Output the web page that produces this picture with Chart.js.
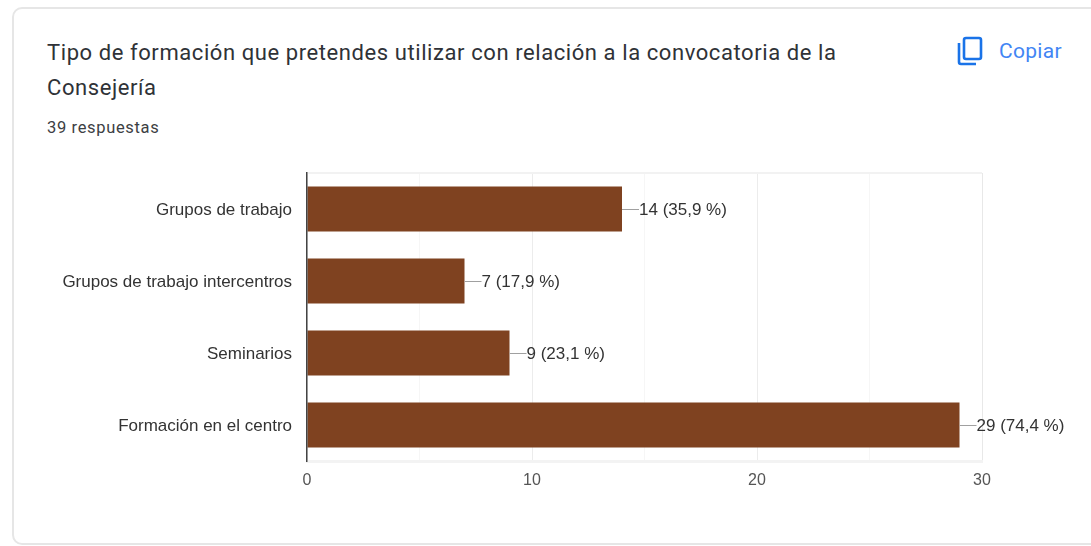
<!DOCTYPE html>
<html lang="es">
<head>
<meta charset="utf-8">
<title>Tipo de formación</title>
<script src="https://cdn.jsdelivr.net/npm/chart.js@4"></script>
<style>
html, body { margin: 0; padding: 0; background: #fff; overflow: hidden; }
#wrap { position: relative; width: 1091px; height: 546px; overflow: hidden; }
#card {
    position: absolute; left: 12px; top: 7px; width: 1200px; height: 538px;
    box-sizing: border-box; background: #fff;
    border: 2px solid #e6e6e6; border-radius: 10px;
}
#title {
    position: absolute; left: 47px; top: 35px; width: 860px;
    font: 400 22px/35px Roboto, sans-serif; letter-spacing: 0.58px; color: #2f3237;
}
#count {
    position: absolute; left: 47px; top: 118px;
    font: 400 16.5px/20px Roboto, sans-serif; letter-spacing: 0.65px; color: #3c4043;
}
#copyIcon { position: absolute; left: 955px; top: 35px; }
#copyText {
    position: absolute; left: 999px; top: 38px;
    font: 400 21px/26px Roboto, sans-serif; letter-spacing: 0.3px; color: #4285f4;
}
#chart { position: absolute; left: 0; top: 0; }
</style>
</head>
<body>
<div id="wrap">
    <div id="card"></div>
    <div id="title">Tipo de formación que pretendes utilizar con relación a la convocatoria de la<br>Consejería</div>
    <div id="count">39 respuestas</div>
    <svg id="copyIcon" width="30" height="32" viewBox="0 0 30 32" fill="none" stroke="#1a73e8" stroke-width="2.6">
        <rect x="9" y="3" width="17" height="21" rx="2"></rect>
        <path d="M4 8 V27 a2 2 0 0 0 2 2 H21"></path>
    </svg>
    <div id="copyText">Copiar</div>
    <canvas id="chart" width="1091" height="546"></canvas>
</div>
<script>
const categories = ["Grupos de trabajo", "Grupos de trabajo intercentros", "Seminarios", "Formación en el centro"];
const counts = [14, 7, 9, 29];
const percents = ["35,9", "17,9", "23,1", "74,4"];

const TEXT_FONT = "Liberation Sans, Arial, sans-serif";

// google forms style labels: short grey leader line, then "n (p %)"
const barLabels =
{
    id: "barLabels",
    afterDatasetsDraw(chart)
    {
        const ctx = chart.ctx;
        const bars = chart.getDatasetMeta(0).data;

        ctx.save();
        ctx.font = "17px " + TEXT_FONT;
        ctx.textBaseline = "middle";
        ctx.textAlign = "left";

        bars.forEach((bar, index) =>
        {
            ctx.strokeStyle = "#a0a0a0";
            ctx.lineWidth = 1;
            ctx.beginPath();
            ctx.moveTo(bar.x, Math.round(bar.y) + 0.5);
            ctx.lineTo(bar.x + 17, Math.round(bar.y) + 0.5);
            ctx.stroke();

            ctx.fillStyle = "#333";
            ctx.fillText(counts[index] + " (" + percents[index] + " %)", bar.x + 17, bar.y + 1);
        });

        ctx.restore();
    }
};

// light frame line along the top of the plot
const topLine =
{
    id: "topLine",
    beforeDatasetsDraw(chart)
    {
        const ctx = chart.ctx;
        const area = chart.chartArea;

        ctx.save();
        ctx.strokeStyle = "#f2f2f2";
        ctx.lineWidth = 2;
        ctx.beginPath();
        ctx.moveTo(area.left, area.top);
        ctx.lineTo(area.right, area.top);
        ctx.stroke();
        ctx.restore();
    }
};

new Chart(document.getElementById("chart").getContext("2d"),
{
    type: "bar",
    data:
    {
        labels: categories,
        datasets:
        [
            {
                data: counts,
                backgroundColor: "#7f4220",
                categoryPercentage: 0.625,
                barPercentage: 1
            }
        ]
    },
    options:
    {
        indexAxis: "y",
        animation: false,
        responsive: false,
        layout:
        {
            padding: { top: 173, right: 109, bottom: 0, left: 0 }
        },
        plugins:
        {
            legend: { display: false },
            tooltip: { enabled: false }
        },
        scales:
        {
            x:
            {
                min: 0,
                max: 30,
                afterFit(scale)
                {
                    scale.height = 85;
                },
                border: { color: "#f3f3f3", width: 3 },
                grid:
                {
                    drawTicks: false,
                    color(context)
                    {
                        const value = context.tick.value;

                        if (value === 30)
                        {
                            return "#e8e8e8";
                        }

                        return value % 10 === 0 ? "#ececec" : "#f6f6f6";
                    }
                },
                ticks:
                {
                    stepSize: 5,
                    maxRotation: 0,
                    padding: 10,
                    color: "#555",
                    font: { family: TEXT_FONT, size: 16 },
                    callback(value)
                    {
                        return value % 10 === 0 ? value : "";
                    }
                }
            },
            y:
            {
                afterFit(scale)
                {
                    scale.width = 307;
                },
                border: { color: "#444", width: 1.5, z: 2 },
                grid: { display: false, drawTicks: false },
                ticks:
                {
                    padding: 15,
                    labelOffset: 1,
                    color: "#333",
                    font: { family: TEXT_FONT, size: 17 }
                }
            }
        }
    },
    plugins: [topLine, barLabels]
});
</script>
</body>
</html>
